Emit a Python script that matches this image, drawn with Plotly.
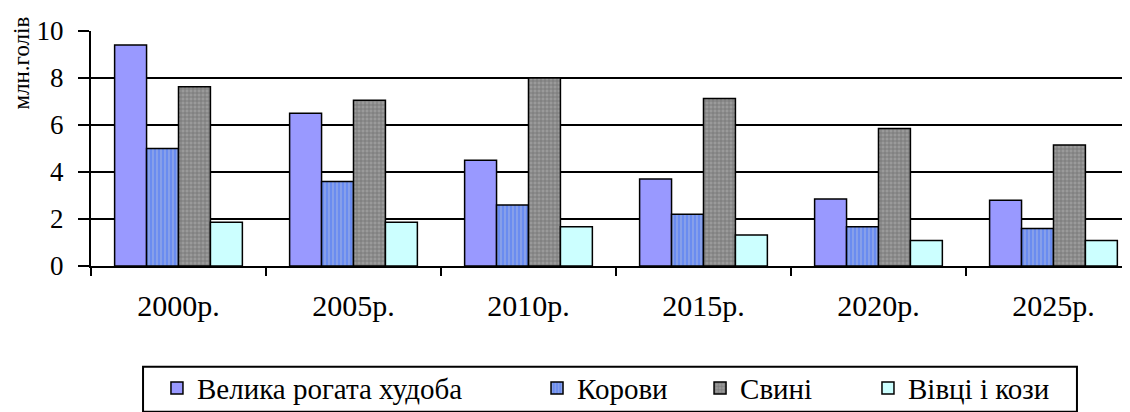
import plotly.graph_objects as go

years = ["2000р.", "2005р.", "2010р.", "2015р.", "2020р.", "2025р."]
cattle = [9.4, 6.5, 4.5, 3.7, 2.85, 2.8]
cows = [5.0, 3.6, 2.6, 2.2, 1.67, 1.6]
pigs = [7.63, 7.05, 8.0, 7.13, 5.85, 5.15]
sheep = [1.86, 1.86, 1.67, 1.32, 1.08, 1.08]

names = ["Велика рогата худоба", "Корови", "Свині", "Вівці і кози"]
font = "Times New Roman"

line = dict(color="#000000", width=1.5)
fig = go.Figure()
fig.add_trace(go.Bar(x=years, y=cattle, name=names[0], legend="legend",
                     marker=dict(color="#9999ff", line=line)))
fig.add_trace(go.Bar(x=years, y=cows, name=names[1], legend="legend2",
                     marker=dict(color="#6a8cf0", line=line,
                                 pattern=dict(shape="|", bgcolor="#6a8cf0", fgcolor="#b0bde0",
                                              size=4, solidity=0.4, fillmode="overlay"))))
fig.add_trace(go.Bar(x=years, y=pigs, name=names[2], legend="legend3",
                     marker=dict(color="#9a9a9a", line=line,
                                 pattern=dict(shape="+", bgcolor="#9a9a9a", fgcolor="#4a4a4a",
                                              size=4, solidity=0.35, fillmode="overlay"))))
fig.add_trace(go.Bar(x=years, y=sheep, name=names[3], legend="legend4",
                     marker=dict(color="#ccffff", line=line)))

leg_font = dict(family=font, size=29, color="black")
def leg(x):
    return dict(orientation="h", x=x, xanchor="left", y=-0.4115, yanchor="top",
                borderwidth=0, bgcolor="rgba(0,0,0,0)", font=leg_font)

fig.update_layout(
    width=1130, height=412,
    margin=dict(l=83, r=0, t=23, b=154, autoexpand=False),
    plot_bgcolor="white", paper_bgcolor="white",
    barmode="group", bargap=0.27, bargroupgap=0,
    font=dict(family=font, color="black"),
    showlegend=True,
    legend=leg(0.063), legend2=leg(0.426), legend3=leg(0.5817), legend4=leg(0.7421),
    shapes=[dict(type="rect", xref="paper", yref="paper",
                 x0=0.0497, x1=0.9417, y0=-0.6205, y1=-0.4286,
                 line=dict(color="#000000", width=2), fillcolor="rgba(0,0,0,0)")],
    annotations=[dict(text="млн.голів", textangle=-90, xref="paper", yref="paper",
                      x=-0.0664, y=0.8635, xanchor="center", yanchor="middle",
                      showarrow=False, font=dict(family=font, size=23, color="black"))],
)
fig.update_xaxes(type="category", range=[-0.5, 5.483], tickson="boundaries",
                 ticks="outside", ticklen=8, tickwidth=1.5, tickcolor="black",
                 showline=True, linecolor="black", linewidth=2, automargin=False,
                 showgrid=False, ticklabelstandoff=12,
                 tickfont=dict(family=font, size=30, color="black"))
fig.update_yaxes(range=[0, 10], dtick=2, showgrid=True, gridcolor="#000000", gridwidth=1.5,
                 ticks="outside", ticklen=11, tickwidth=1.5, tickcolor="black",
                 showline=True, linecolor="black", linewidth=2, zeroline=False,
                 ticklabelstandoff=9, automargin=False,
                 tickfont=dict(family=font, size=27, color="black"))

fig.write_html("out.html")
